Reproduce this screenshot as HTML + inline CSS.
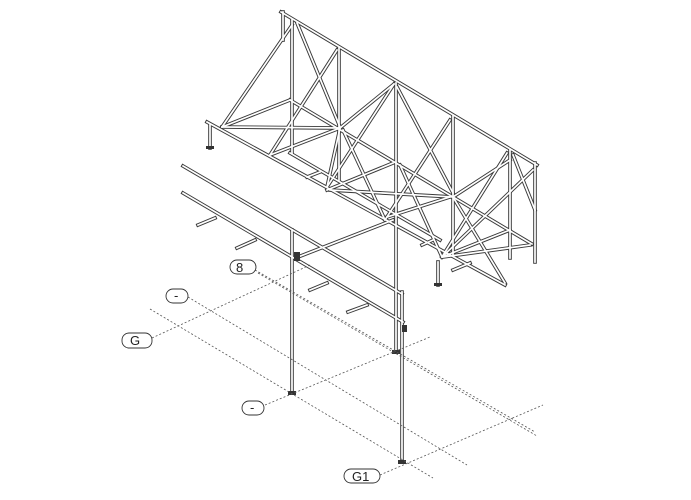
<!DOCTYPE html>
<html><head><meta charset="utf-8"><style>
html,body{margin:0;padding:0;background:#fff;}
svg{display:block;}
text{font-family:"Liberation Sans",sans-serif;font-size:13px;fill:#222;}
</style></head><body>
<svg width="691" height="500" viewBox="0 0 691 500" xmlns="http://www.w3.org/2000/svg">
<defs>
<g id="mem" stroke-linecap="square">
<line x1="281" y1="12" x2="537" y2="165"/>
<line x1="283" y1="12" x2="283" y2="40"/>
<line x1="292" y1="20" x2="292" y2="153"/>
<line x1="339" y1="48" x2="339" y2="180"/>
<line x1="453" y1="116" x2="453" y2="256"/>
<line x1="510" y1="150" x2="510" y2="258"/>
<line x1="535" y1="163" x2="535" y2="262"/>
<line x1="290" y1="100" x2="532" y2="244"/>
<line x1="290" y1="153" x2="440" y2="240"/>
<line x1="207" y1="122" x2="505" y2="285"/>
<line x1="222" y1="127" x2="292" y2="25"/>
<line x1="222" y1="127" x2="340" y2="128"/>
<line x1="222" y1="127" x2="290" y2="100"/>
<line x1="270" y1="155" x2="337" y2="50"/>
<line x1="270" y1="155" x2="340" y2="128"/>
<line x1="297" y1="23" x2="340" y2="127"/>
<line x1="327" y1="187" x2="394" y2="84"/>
<line x1="327" y1="187" x2="340" y2="128"/>
<line x1="327" y1="190" x2="393" y2="163"/>
<line x1="330" y1="190" x2="453" y2="197"/>
<line x1="340" y1="128" x2="394" y2="84"/>
<line x1="397" y1="87" x2="453" y2="193"/>
<line x1="385" y1="220" x2="450" y2="120"/>
<line x1="387" y1="217" x2="450" y2="197"/>
<line x1="343" y1="130" x2="385" y2="220"/>
<line x1="400" y1="165" x2="442" y2="257"/>
<line x1="442" y1="257" x2="507" y2="153"/>
<line x1="442" y1="257" x2="533" y2="170"/>
<line x1="443" y1="257" x2="530" y2="245"/>
<line x1="442" y1="257" x2="510" y2="230"/>
<line x1="453" y1="197" x2="505" y2="283"/>
<line x1="513" y1="155" x2="535" y2="210"/>
<line x1="453" y1="197" x2="510" y2="160"/>
<line x1="298" y1="257" x2="393" y2="220"/>
<line x1="210" y1="125" x2="210" y2="148"/>
<line x1="438" y1="262" x2="438" y2="285"/>
<line x1="307" y1="177" x2="320" y2="172"/>
<line x1="422" y1="245" x2="433" y2="240"/>
<line x1="453" y1="270" x2="470" y2="263"/>
<line x1="183" y1="166" x2="402" y2="294"/>
<line x1="183" y1="193" x2="403" y2="322"/>
<line x1="198" y1="225" x2="215" y2="218"/>
<line x1="237" y1="248" x2="255" y2="240"/>
<line x1="310" y1="290" x2="327" y2="283"/>
<line x1="348" y1="312" x2="367" y2="305"/>
<line x1="292" y1="230" x2="292" y2="393"/>
<line x1="396" y1="83" x2="396" y2="352"/>
<line x1="402" y1="292" x2="402" y2="462"/>
</g>
</defs>
<use href="#mem" stroke="#3a3a3a" stroke-width="3.6"/>
<use href="#mem" stroke="#fff" stroke-width="1.7"/>
<g fill="#333">
<rect x="288" y="391" width="8" height="4"/>
<rect x="392" y="350" width="8" height="4"/>
<rect x="398" y="460" width="8" height="4"/>
<rect x="206" y="146" width="8" height="3"/>
<rect x="434" y="283" width="8" height="3"/>
<rect x="294" y="252" width="6" height="9"/>
<rect x="402" y="325" width="5" height="7"/>
</g>
<g stroke="#555" stroke-width="0.8" stroke-dasharray="2,2" fill="none">
<line x1="255" y1="270" x2="535" y2="432"/>
<line x1="258" y1="273" x2="537" y2="436"/>
<line x1="188" y1="297" x2="467" y2="465"/>
<line x1="150" y1="309" x2="433" y2="478"/>
<line x1="152" y1="338" x2="310" y2="265"/>
<line x1="265" y1="405" x2="430" y2="337"/>
<line x1="380" y1="475" x2="543" y2="405"/>
</g>
<g fill="#fff" stroke="#333" stroke-width="0.9">
<rect x="230" y="260" width="26" height="14" rx="7"/>
<rect x="166" y="289" width="22" height="14" rx="7"/>
<rect x="122" y="333" width="30" height="15" rx="7"/>
<rect x="242" y="401" width="22" height="14" rx="7"/>
<rect x="344" y="469" width="36" height="14" rx="7"/>
</g>
<text x="236" y="272">8</text>
<text x="174" y="300">-</text>
<text x="130" y="345">G</text>
<text x="250" y="412">-</text>
<text x="352" y="481">G1</text>
</svg>
</body></html>
